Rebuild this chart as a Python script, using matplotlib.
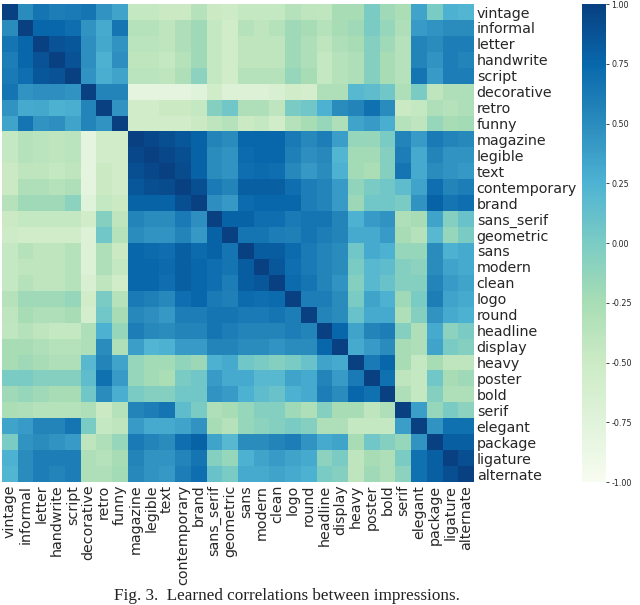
import numpy as np
import matplotlib
matplotlib.use("Agg")
import matplotlib.pyplot as plt

labels = ["vintage", "informal", "letter", "handwrite", "script", "decorative",
          "retro", "funny", "magazine", "legible", "text", "contemporary",
          "brand", "sans_serif", "geometric", "sans", "modern", "clean", "logo",
          "round", "headline", "display", "heavy", "poster", "bold", "serif",
          "elegant", "package", "ligature", "alternate"]

# upper triangle: each list holds the correlations with the labels that follow it
vintage = [0.5, 0.65, 0.6, 0.62, 0.65, 0.45, 0.35,
           -0.45, -0.45, -0.5, -0.5, -0.35, -0.5, -0.52, -0.45, -0.45, -0.45, -0.35, -0.4,
           -0.42, -0.25, -0.25, 0.0, -0.2, -0.28, 0.35, 0.0, 0.25, 0.22]
informal = [0.75, 0.75, 0.7, 0.45, 0.3, 0.65,
            -0.35, -0.35, -0.4, -0.3, -0.2, -0.45, -0.55, -0.35, -0.4, -0.35, -0.2, -0.25,
            -0.35, -0.25, -0.2, 0.0, -0.15, -0.3, 0.4, 0.45, 0.5, 0.5]
letter = [0.88, 0.85, 0.48, 0.32, 0.45,
          -0.38, -0.38, -0.4, -0.3, -0.2, -0.45, -0.55, -0.4, -0.4, -0.4, -0.2, -0.3,
          -0.4, -0.3, -0.25, -0.05, -0.2, -0.35, 0.55, 0.5, 0.6, 0.6]
handwrite = [0.88, 0.48, 0.25, 0.48,
             -0.4, -0.4, -0.45, -0.35, -0.2, -0.45, -0.55, -0.4, -0.4, -0.4, -0.2, -0.3,
             -0.45, -0.35, -0.3, -0.05, -0.25, -0.35, 0.55, 0.45, 0.6, 0.55]
script = [0.45, 0.28, 0.35,
          -0.38, -0.38, -0.4, -0.3, -0.1, -0.45, -0.55, -0.35, -0.35, -0.35, -0.15, -0.25,
          -0.45, -0.35, -0.3, -0.05, -0.25, -0.35, 0.65, 0.4, 0.6, 0.6]
decorative = [0.55, 0.55,
              -0.8, -0.8, -0.8, -0.8, -0.75, -0.55, -0.7, -0.7, -0.7, -0.65, -0.55, -0.6,
              -0.3, -0.3, 0.2, 0.15, 0.05, -0.3, 0.0, -0.4, -0.3, -0.3]
retro = [0.45,
         -0.55, -0.55, -0.5, -0.5, -0.45, -0.05, 0.05, -0.3, -0.3, -0.4, 0.0, 0.05,
         0.25, 0.5, 0.55, 0.68, 0.5, -0.5, -0.45, -0.3, -0.35, -0.3]
funny = [-0.55, -0.55, -0.55, -0.55, -0.5, -0.4, -0.35, -0.5, -0.45, -0.55, -0.35, -0.25,
         -0.15, -0.3, 0.35, 0.4, 0.28, -0.35, -0.4, -0.15, -0.25, -0.22]
magazine = [0.95, 0.9, 0.85, 0.78, 0.55, 0.5, 0.75, 0.75, 0.75, 0.62, 0.52,
            0.6, 0.38, -0.15, -0.15, 0.0, 0.55, 0.4, 0.62, 0.55, 0.52]
legible = [0.95, 0.9, 0.78, 0.5, 0.45, 0.72, 0.75, 0.75, 0.58, 0.48,
           0.52, 0.22, -0.22, -0.22, -0.05, 0.6, 0.3, 0.55, 0.45, 0.45]
text = [0.92, 0.78, 0.5, 0.45, 0.7, 0.72, 0.7, 0.52, 0.42,
        0.5, 0.25, -0.22, -0.28, -0.05, 0.65, 0.3, 0.5, 0.45, 0.42]
contemporary = [0.9, 0.62, 0.55, 0.8, 0.8, 0.8, 0.7, 0.6,
                0.55, 0.4, -0.12, 0.0, 0.05, 0.15, 0.35, 0.7, 0.55, 0.6]
brand = [0.48, 0.42, 0.72, 0.75, 0.75, 0.75, 0.6,
         0.55, 0.4, -0.18, 0.05, 0.05, 0.0, 0.45, 0.78, 0.65, 0.7]
sans_serif = [0.78, 0.78, 0.7, 0.7, 0.62, 0.65,
              0.65, 0.55, 0.25, 0.4, 0.45, -0.3, -0.25, 0.35, -0.05, 0.1]
geometric = [0.65, 0.65, 0.6, 0.58, 0.65,
             0.6, 0.55, 0.3, 0.3, 0.4, -0.25, -0.35, 0.2, -0.15, 0.0]
sans = [0.82, 0.82, 0.72, 0.62,
        0.55, 0.5, 0.05, 0.3, 0.25, -0.15, -0.15, 0.5, 0.25, 0.3]
modern = [0.85, 0.7, 0.62,
          0.55, 0.5, 0.0, 0.2, 0.15, -0.05, -0.1, 0.5, 0.35, 0.3]
clean = [0.72, 0.65,
         0.55, 0.45, -0.05, 0.2, 0.1, -0.05, -0.05, 0.55, 0.4, 0.35]
logo = [0.6,
        0.6, 0.5, 0.0, 0.35, 0.25, -0.2, 0.0, 0.6, 0.35, 0.3]
round_ = [0.55, 0.5, 0.1, 0.3, 0.3, -0.3, -0.05, 0.45, 0.3, 0.25]
headline = [0.75, 0.35, 0.55, 0.6, -0.05, -0.3, 0.3, -0.1, 0.0]
display = [0.3, 0.4, 0.5, -0.25, -0.3, 0.35, 0.0, -0.05]
heavy = [0.62, 0.75, -0.25, -0.45, -0.25, -0.4, -0.4]
poster = [0.68, -0.4, -0.45, 0.05, -0.25, -0.2]
bold = [-0.3, -0.45, -0.05, -0.3, -0.3]
serif = [0.38, -0.15, 0.0, -0.1]
elegant = [0.45, 0.68, 0.68]
package = [0.8, 0.8]
ligature = [0.9]

upper = [vintage, informal, letter, handwrite, script, decorative, retro, funny,
         magazine, legible, text, contemporary, brand, sans_serif, geometric, sans,
         modern, clean, logo, round_, headline, display, heavy, poster, bold, serif,
         elegant, package, ligature]

n = len(labels)
corr = np.eye(n)
for i, row in enumerate(upper):
    corr[i, i + 1:] = row
    corr[i + 1:, i] = row

fig = plt.figure(figsize=(6.4, 6.05), dpi=100)
ax = fig.add_axes([0.003, 0.2033, 0.7375, 0.790])
cax = fig.add_axes([0.909, 0.2033, 0.0375, 0.790])

im = ax.imshow(corr, cmap="GnBu", vmin=-1, vmax=1, aspect="auto",
               interpolation="nearest")

label_color = "#262626"
ax.set_xticks(np.arange(n))
ax.set_yticks(np.arange(n))
ax.set_xticklabels(labels, rotation=90, fontsize=10.3, color=label_color)
ax.set_yticklabels(labels, fontsize=10.3, color=label_color)
ax.yaxis.tick_right()
ax.tick_params(axis="both", length=0, pad=2)
for s in ax.spines.values():
    s.set_visible(False)

cbar = fig.colorbar(im, cax=cax)
cbar.set_ticks([1.0, 0.75, 0.5, 0.25, 0.0, -0.25, -0.5, -0.75, -1.0])
cbar.ax.tick_params(labelsize=5.8, length=2.5, width=0.6, pad=1.5,
                    colors=label_color)
cbar.ax.yaxis.set_major_formatter(matplotlib.ticker.FormatStrFormatter("%.2f"))
cbar.outline.set_visible(False)

# caption sits at the very bottom edge, as in the cropped paper figure
fig.text(0.448, 0.0085, "Fig. 3.  Learned correlations between impressions.",
         ha="center", va="baseline", fontsize=12.3, family="Liberation Serif",
         color="#222222")

fig.savefig("out.png", dpi=100)
